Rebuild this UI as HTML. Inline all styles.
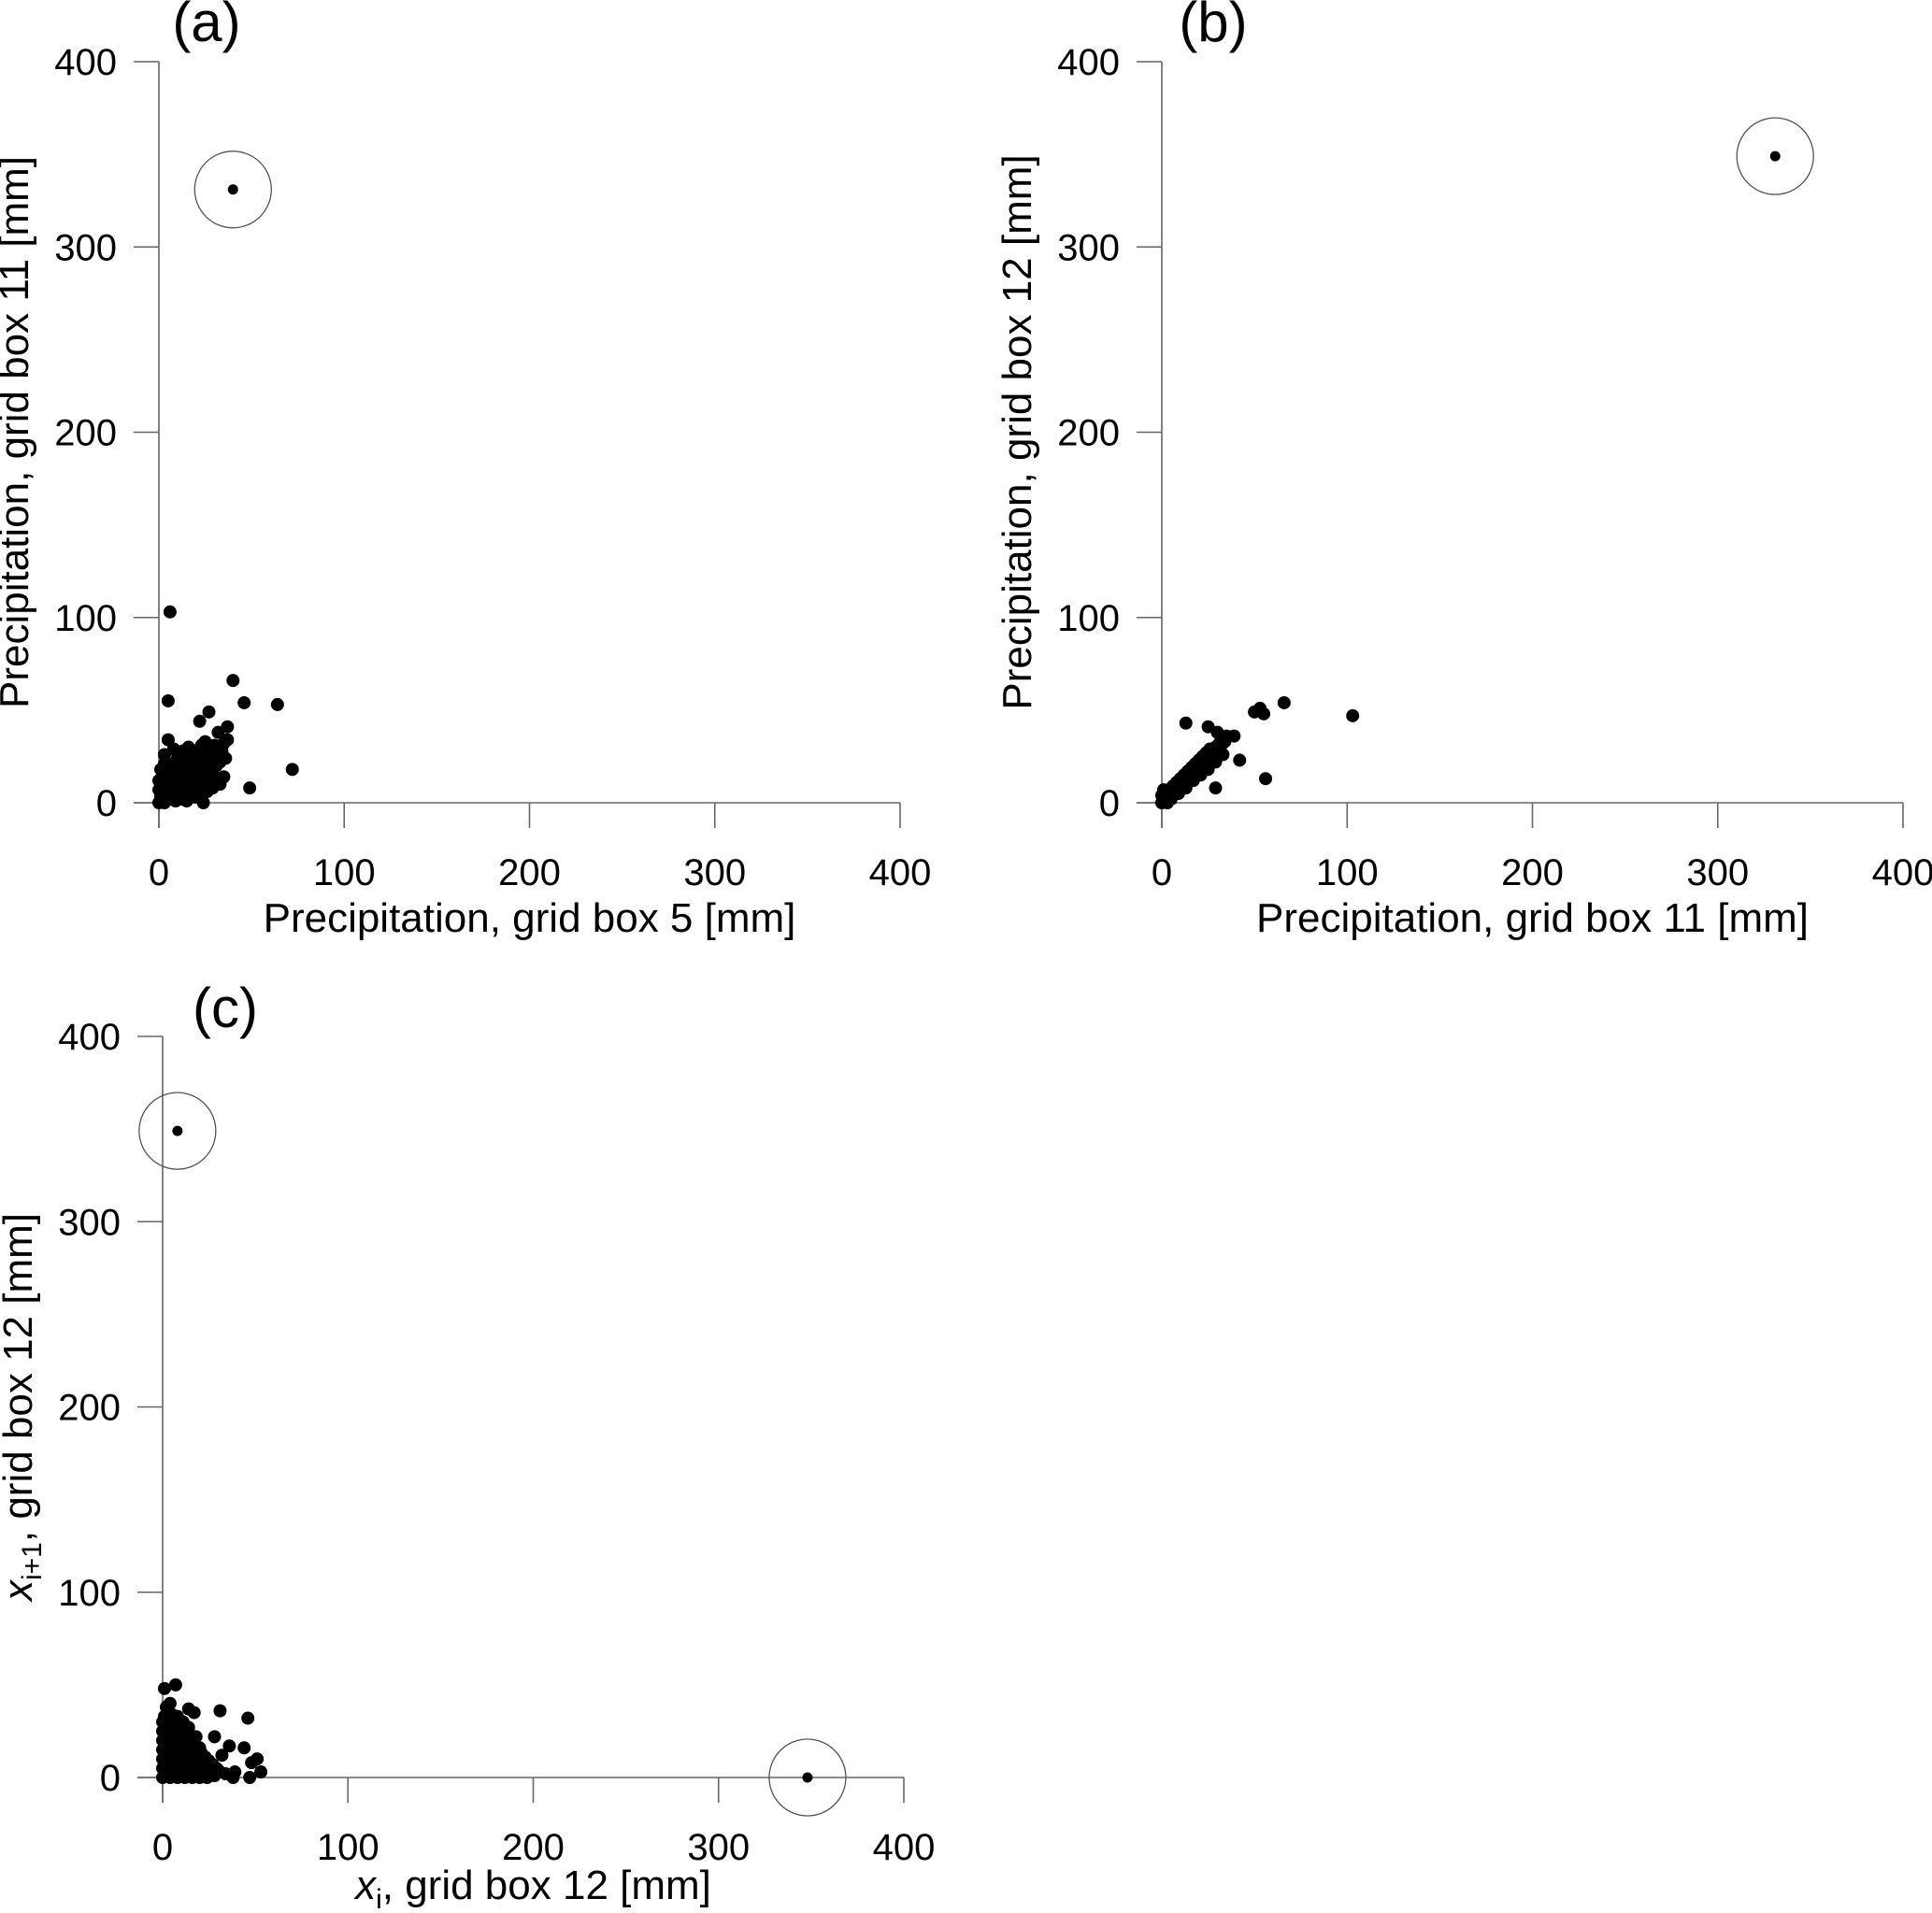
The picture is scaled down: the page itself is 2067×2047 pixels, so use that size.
<!DOCTYPE html>
<html><head><meta charset="utf-8"><style>
html,body{margin:0;padding:0;background:#fff;}
svg{display:block;font-family:"Liberation Sans",Arial,sans-serif;}
</style></head><body>
<svg id="chart" width="2067" height="2047" viewBox="0 0 2067 2047" xmlns="http://www.w3.org/2000/svg"></svg>
<script>
const ticks = [0,100,200,300,400];
const panelLabels = ["(a)","(b)","(c)"];
const xTitles = ["Precipitation, grid box 5 [mm]","Precipitation, grid box 11 [mm]","x_i, grid box 12 [mm]"];
const yTitles = ["Precipitation, grid box 11 [mm]","Precipitation, grid box 12 [mm]","x_i+1, grid box 12 [mm]"];
const aX = [6,5,40,46,64,72,49,5,27,22,37,37,32,3,24,0,2,4,1,3,0,2,1,5,6,8,7,5,4,9,10,11,9,8,6,12,13,14,12,11,10,15,16,17,15,14,13,18,19,20,18,17,16,21,22,23,21,20,24,25,26,24,23,27,28,29,27,30,31,32,30,33,34,35,33,29,26,20,15,28,36,35,3,8,25,1,2,3,0];
const aY = [103,55,66,54,53,18,8,34,49,44,41,34,38,21,0,0,1,2,5,8,12,15,18,3,7,4,10,14,18,1,6,10,14,18,21,2,8,13,17,21,24,4,10,15,20,24,28,6,12,17,22,26,30,8,14,19,24,28,10,16,22,27,31,12,18,24,29,14,20,26,31,22,28,14,10,8,6,3,1,11,24,32,26,29,33,3,10,0,7];
const aOutX = [40];
const aOutY = [331];
const bX = [103,66,53,55,50,13,56,29,39,42,25,30,0,1,2,3,4,5,6,7,8,9,10,11,12,13,14,15,16,17,18,19,20,21,22,23,24,25,26,27,28,29,30,31,32,33,34,35,2,4,6,8,10,12,14,16,18,20,22,24,26,5,9,13,17,21,25,29,33,0,1,3];
const bY = [47,54,51,48,49,43,13,8,36,23,41,38,0,2,1,4,3,6,5,8,7,10,9,12,11,14,13,16,15,18,17,20,19,22,21,24,23,26,25,28,27,30,29,32,31,34,33,36,5,7,9,11,13,15,17,19,21,23,25,27,29,2,5,8,12,15,18,22,26,4,7,0];
const bOutX = [331];
const bOutY = [349];
const cX = [1,7,4,2,14,17,31,46,44,36,48,51,53,47,38,39,28,32,26,0,0,0,0,0,0,0,2,2,2,2,2,2,4,4,4,4,4,4,6,6,6,6,6,8,8,8,8,8,10,10,10,10,10,12,12,12,12,14,14,14,16,16,16,18,18,20,20,22,22,24,24,26,28,30,1,3,5,7,9,11,13,15,17,19,21,23,25,27,29,34,5,8,11,12,16,20,14,18,10,6,3];
const cY = [48,50,40,38,37,35,36,32,16,17,8,10,3,0,0,3,22,12,5,0,5,10,15,20,25,30,2,7,12,17,22,27,0,5,10,15,20,26,3,8,13,18,24,0,6,12,18,28,2,8,14,20,24,0,6,12,18,4,10,16,0,6,12,3,9,0,6,2,8,0,5,3,1,4,33,31,29,27,25,23,21,19,17,15,13,11,9,7,5,2,34,33,30,24,20,16,27,22,30,32,36];
const cOutX = [8,348];
const cOutY = [349,0];

const panels = [
 {x0:170,y0:859,lx:221,ly:44,tOff:138,xs:aX,ys:aY,ox:aOutX,oy:aOutY},
 {x0:1243,y0:859,lx:1298,ly:44,tOff:138,xs:bX,ys:bY,ox:bOutX,oy:bOutY},
 {x0:174,y0:1902,lx:241,ly:1099,tOff:130,xs:cX,ys:cY,ox:cOutX,oy:cOutY}
];
const NS="http://www.w3.org/2000/svg";
const svg=document.getElementById('chart');
function mk(tag,attrs,parent){const e=document.createElementNS(NS,tag);for(const k in attrs)e.setAttribute(k,attrs[k]);parent.appendChild(e);return e;}
const L=793;
panels.forEach((p,i)=>{
  const g=mk('g',{},svg);
  
  
  const sx=v=>p.x0+v/400*L, sy=v=>p.y0-v/400*L;
  const ax=mk('line',{x1:p.x0-27,y1:p.y0,x2:sx(400),y2:p.y0,stroke:'#666','stroke-width':1.6},g);
  
  
  const ay=mk('line',{x1:p.x0,y1:p.y0+27,x2:p.x0,y2:sy(400),stroke:'#666','stroke-width':1.6},g);
  
  
  ticks.forEach(t=>{
    mk('line',{x1:sx(t),y1:p.y0,x2:sx(t),y2:p.y0+27,stroke:'#666','stroke-width':1.6},g);
    mk('line',{x1:p.x0-27,y1:sy(t),x2:p.x0,y2:sy(t),stroke:'#666','stroke-width':1.6},g);
    const tx=mk('text',{x:sx(t),y:p.y0+88,'text-anchor':'middle','font-size':40},g);
    tx.textContent=t;
    
    
    const ty=mk('text',{x:p.x0-45,y:sy(t)+14,'text-anchor':'end','font-size':40},g);
    ty.textContent=t;
    
    
  });
  const lab=mk('text',{x:p.lx,y:p.ly,'text-anchor':'middle','font-size':60},g);
  lab.textContent=panelLabels[i];
  
  
  const xt=mk('text',{x:p.x0+L/2,y:p.y0+p.tOff,'text-anchor':'middle','font-size':44},g);
  
  
  const yt=mk('text',{x:0,y:0,'text-anchor':'middle','font-size':44,transform:`translate(${p.x0-140},${p.y0-L/2}) rotate(-90)`},g);
  
  
  if(i<2){xt.textContent=xTitles[i];yt.textContent=yTitles[i];}
  else{
    xt.innerHTML='<tspan font-style="italic">x</tspan><tspan font-size="30" dy="10">i</tspan><tspan dy="-10">, grid box 12 [mm]</tspan>';
    yt.innerHTML='<tspan font-style="italic">x</tspan><tspan font-size="30" dy="10">i+1</tspan><tspan dy="-10">, grid box 12 [mm]</tspan>';
  }
  p.xs.forEach((v,k)=>{
    const c=mk('circle',{cx:sx(v),cy:sy(p.ys[k]),r:7,fill:'#000'},g);
    
    
  });
  p.ox.forEach((v,k)=>{
    const ring=mk('circle',{cx:sx(v),cy:sy(p.oy[k]),r:41,fill:'none',stroke:'#555','stroke-width':1.3},g);
    
    
    const d=mk('circle',{cx:sx(v),cy:sy(p.oy[k]),r:5.5,fill:'#000'},g);
    
    
  });
});
</script>
</body></html>
